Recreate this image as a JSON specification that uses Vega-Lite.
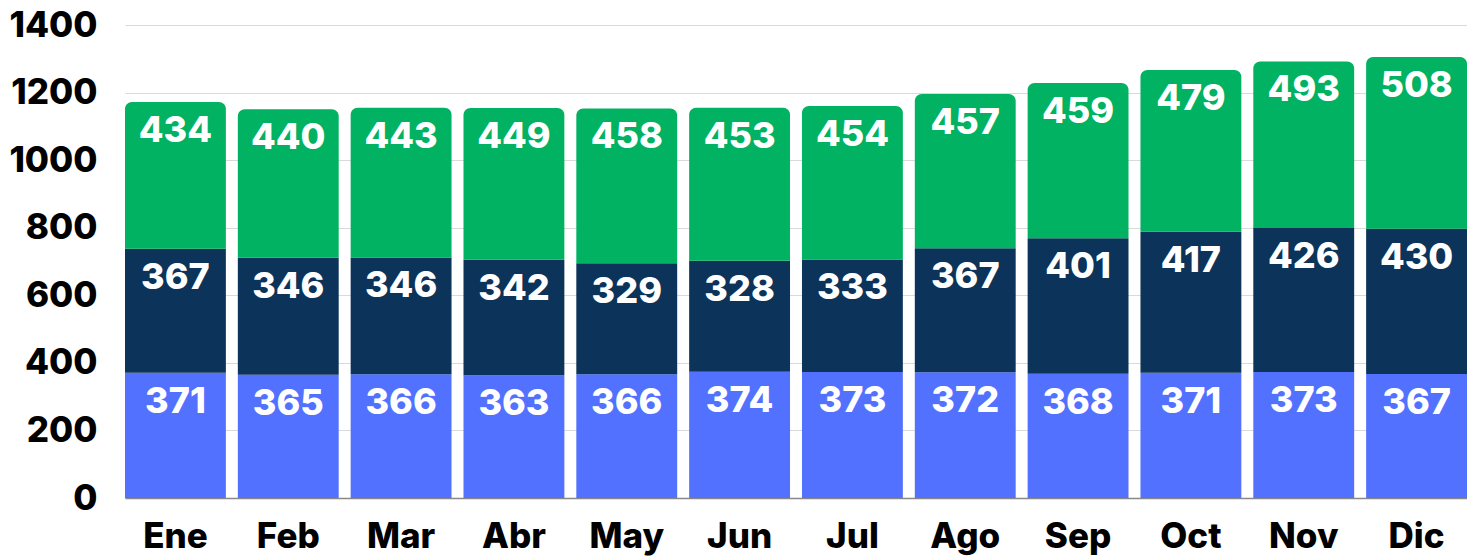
{
  "$schema": "https://vega.github.io/schema/vega-lite/v6.json",
  "width": 1342,
  "height": 473,
  "autosize": {"type": "none"},
  "padding": {"left": 125, "top": 25, "right": 0, "bottom": 58},
  "background": "white",
  "config": {"view": {"stroke": null}, "font": "Inter"},
  "data": {
    "values": [
      {"month": "Ene", "series": "A", "order": 1, "value": 371},
      {"month": "Feb", "series": "A", "order": 1, "value": 365},
      {"month": "Mar", "series": "A", "order": 1, "value": 366},
      {"month": "Abr", "series": "A", "order": 1, "value": 363},
      {"month": "May", "series": "A", "order": 1, "value": 366},
      {"month": "Jun", "series": "A", "order": 1, "value": 374},
      {"month": "Jul", "series": "A", "order": 1, "value": 373},
      {"month": "Ago", "series": "A", "order": 1, "value": 372},
      {"month": "Sep", "series": "A", "order": 1, "value": 368},
      {"month": "Oct", "series": "A", "order": 1, "value": 371},
      {"month": "Nov", "series": "A", "order": 1, "value": 373},
      {"month": "Dic", "series": "A", "order": 1, "value": 367},
      {"month": "Ene", "series": "B", "order": 2, "value": 367},
      {"month": "Feb", "series": "B", "order": 2, "value": 346},
      {"month": "Mar", "series": "B", "order": 2, "value": 346},
      {"month": "Abr", "series": "B", "order": 2, "value": 342},
      {"month": "May", "series": "B", "order": 2, "value": 329},
      {"month": "Jun", "series": "B", "order": 2, "value": 328},
      {"month": "Jul", "series": "B", "order": 2, "value": 333},
      {"month": "Ago", "series": "B", "order": 2, "value": 367},
      {"month": "Sep", "series": "B", "order": 2, "value": 401},
      {"month": "Oct", "series": "B", "order": 2, "value": 417},
      {"month": "Nov", "series": "B", "order": 2, "value": 426},
      {"month": "Dic", "series": "B", "order": 2, "value": 430},
      {"month": "Ene", "series": "C", "order": 3, "value": 434},
      {"month": "Feb", "series": "C", "order": 3, "value": 440},
      {"month": "Mar", "series": "C", "order": 3, "value": 443},
      {"month": "Abr", "series": "C", "order": 3, "value": 449},
      {"month": "May", "series": "C", "order": 3, "value": 458},
      {"month": "Jun", "series": "C", "order": 3, "value": 453},
      {"month": "Jul", "series": "C", "order": 3, "value": 454},
      {"month": "Ago", "series": "C", "order": 3, "value": 457},
      {"month": "Sep", "series": "C", "order": 3, "value": 459},
      {"month": "Oct", "series": "C", "order": 3, "value": 479},
      {"month": "Nov", "series": "C", "order": 3, "value": 493},
      {"month": "Dic", "series": "C", "order": 3, "value": 508}
    ]
  },
  "transform": [
    {"stack": "value", "groupby": ["month"], "sort": [{"field": "order", "order": "ascending"}], "as": ["y0", "y1"]}
  ],
  "encoding": {
    "x": {
      "field": "month", "type": "nominal",
      "sort": ["Ene","Feb","Mar","Abr","May","Jun","Jul","Ago","Sep","Oct","Nov","Dic"],
      "scale": {"paddingInner": 0.106, "paddingOuter": 0},
      "axis": {
        "title": null, "labelAngle": 0, "labelFont": "Inter", "labelFontSize": 35, "labelFontWeight": 800,
        "labelColor": "#000000", "labelPadding": 21, "ticks": false, "domain": true, "domainColor": "#888888", "domainWidth": 1.5
      }
    },
    "y": {
      "field": "y1", "type": "quantitative",
      "scale": {"domain": [0, 1400], "nice": false},
      "axis": {
        "title": null, "values": [0,200,400,600,800,1000,1200,1400], "format": "d", "labelFont": "Inter", "labelFontSize": 35,
        "labelFontWeight": 800, "labelColor": "#000000", "labelPadding": 28, "ticks": false, "domain": false,
        "gridColor": "#d9d9d9", "gridWidth": 1
      }
    }
  },
  "layer": [
    {
      "transform": [{"filter": "datum.series != 'C'"}],
      "mark": {"type": "bar"},
      "encoding": {
        "y2": {"field": "y0"},
        "color": {"field": "series", "type": "nominal", "scale": {"domain": ["A","B","C"], "range": ["#5271FF","#0C3359","#00B262"]}, "legend": null}
      }
    },
    {
      "transform": [{"filter": "datum.series == 'C'"}],
      "mark": {"type": "bar", "cornerRadiusTopLeft": 7, "cornerRadiusTopRight": 7},
      "encoding": {
        "y2": {"field": "y0"},
        "color": {"field": "series", "type": "nominal", "scale": {"domain": ["A","B","C"], "range": ["#5271FF","#0C3359","#00B262"]}, "legend": null}
      }
    },
    {
      "mark": {"type": "text", "baseline": "middle", "align": "center", "dy": 29, "font": "Inter", "fontSize": 36, "fontWeight": 800, "color": "#ffffff"},
      "encoding": {
        "text": {"field": "value", "type": "quantitative"}
      }
    }
  ]
}
